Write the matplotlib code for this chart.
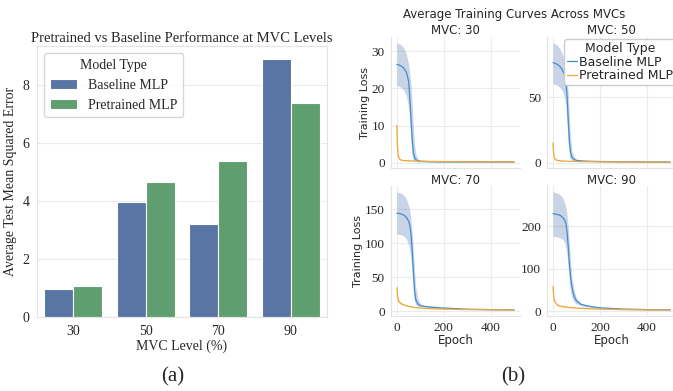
import matplotlib
matplotlib.use("Agg")
import matplotlib.pyplot as plt
import seaborn as sns

sns.set_style("whitegrid", {'grid.color': '#EBEBEB', 'axes.edgecolor': '#E3E3E3'})
plt.rcParams['font.family'] = ['DejaVu Sans']
plt.rcParams['font.serif'] = ['Liberation Serif', 'DejaVu Serif']

# ---- (a) bar chart data ----
mvc_levels = ["30", "50", "70", "90"]
baseline_mse = [0.96, 3.97, 3.22, 8.88]
pretrained_mse = [1.08, 4.65, 5.36, 7.37]

# ---- (b) training curves data ----
base_epochs = [0, 10, 20, 30, 40, 50, 55, 60, 65, 70, 75, 80, 90, 100, 120, 150, 200, 300, 400, 499]
pre_epochs = [0, 2, 5, 10, 20, 40, 60, 80, 100, 150, 200, 300, 400, 499]

base_mean = {
    30: [26.5, 26.3, 26.0, 25.4, 24.4, 22.0, 17.5, 12.0, 6.5, 2.8, 1.5, 0.9, 0.6, 0.45, 0.38, 0.33, 0.3, 0.3, 0.3, 0.3],
    50: [76.6, 76.0, 75.0, 73.5, 71.0, 67.0, 62.0, 50.0, 32.0, 16.0, 8.0, 4.5, 2.6, 1.9, 1.5, 1.2, 1.0, 0.8, 0.7, 0.6],
    70: [144, 143.5, 142.5, 141, 138, 132, 126, 114, 90, 60, 32, 17, 10, 8, 6.8, 5.8, 4.5, 2.8, 2.2, 2.0],
    90: [230, 229, 228, 226, 222, 214, 205, 185, 150, 110, 80, 58, 35, 24, 16, 12, 8, 5, 3.8, 3.2],
}
base_upper = {
    30: [32.2, 32.0, 31.6, 30.8, 29.3, 26.5, 24.0, 20.5, 15.5, 9.5, 5.0, 2.5, 1.0, 0.6, 0.45, 0.4, 0.35, 0.35, 0.35, 0.35],
    50: [91.5, 91.0, 89.5, 87.0, 83.0, 77.0, 73.0, 66.0, 52.0, 33.0, 18.0, 9.0, 4.0, 2.5, 1.8, 1.4, 1.1, 0.9, 0.8, 0.7],
    70: [175, 174, 173, 170, 165, 155, 148, 135, 115, 88, 60, 36, 18, 11, 8, 6.5, 5.0, 3.0, 2.4, 2.2],
    90: [281, 280, 278, 275, 268, 255, 245, 225, 195, 155, 115, 82, 48, 30, 19, 14, 9, 5.8, 4.3, 3.6],
}
base_lower = {
    30: [20.8, 20.6, 20.2, 19.5, 18.0, 15.0, 11.0, 5.5, 1.8, 0.6, 0.4, 0.3, 0.28, 0.26, 0.25, 0.22, 0.2, 0.2, 0.2, 0.2],
    50: [60.5, 60.0, 59.0, 57.5, 55.0, 50.0, 42.0, 28.0, 14.0, 5.0, 2.5, 1.8, 1.4, 1.2, 1.1, 1.0, 0.8, 0.7, 0.6, 0.5],
    70: [113.5, 113, 112, 110, 106, 98, 90, 75, 55, 30, 15, 10, 7.5, 6.5, 5.8, 5.0, 4.0, 2.6, 2.0, 1.8],
    90: [176.5, 176, 175, 173, 170, 162, 150, 130, 100, 68, 45, 32, 22, 17, 13, 10, 7, 4.3, 3.3, 2.9],
}
pre_mean = {
    30: [10.0, 5.0, 2.2, 1.1, 0.7, 0.6, 0.55, 0.5, 0.45, 0.4, 0.35, 0.3, 0.3, 0.3],
    50: [15.2, 8.0, 4.0, 2.5, 1.8, 1.4, 1.2, 1.1, 1.0, 0.9, 0.8, 0.7, 0.6, 0.6],
    70: [34.5, 24.0, 17.0, 13.5, 10.5, 8.0, 6.3, 5.2, 4.5, 3.6, 3.0, 2.3, 2.0, 1.8],
    90: [59, 40, 27, 20, 14, 11, 9.5, 8.5, 7.5, 6.0, 5.0, 3.8, 3.2, 3.0],
}
pre_upper = {
    30: [10.3, 5.4, 2.5, 1.3, 0.8, 0.7, 0.6, 0.55, 0.5, 0.45, 0.4, 0.35, 0.35, 0.35],
    50: [16.0, 8.8, 4.6, 2.9, 2.1, 1.6, 1.4, 1.2, 1.1, 1.0, 0.9, 0.8, 0.7, 0.7],
    70: [36.0, 26.5, 19.5, 15.5, 12.0, 9.0, 7.0, 5.8, 5.0, 3.9, 3.2, 2.5, 2.2, 2.0],
    90: [61, 44, 31, 23, 16, 12.5, 10.5, 9.3, 8.2, 6.5, 5.4, 4.1, 3.5, 3.2],
}
pre_lower = {
    30: [9.7, 4.6, 1.9, 0.9, 0.6, 0.5, 0.5, 0.45, 0.4, 0.35, 0.3, 0.25, 0.25, 0.25],
    50: [14.4, 7.2, 3.4, 2.1, 1.5, 1.2, 1.0, 1.0, 0.9, 0.8, 0.7, 0.6, 0.5, 0.5],
    70: [33.0, 21.5, 14.5, 11.5, 9.0, 7.0, 5.6, 4.6, 4.0, 3.3, 2.8, 2.1, 1.8, 1.6],
    90: [57, 36, 23, 17, 12, 9.5, 8.5, 7.7, 6.8, 5.5, 4.6, 3.5, 2.9, 2.8],
}
yticks = {30: [0, 10, 20, 30], 50: [0, 50], 70: [0, 50, 100, 150], 90: [0, 100, 200]}

fig = plt.figure(figsize=(6.73, 3.91), dpi=100)

# ---------------- (a) ----------------
serif = ['Liberation Serif', 'DejaVu Serif']
ax = fig.add_axes([0.055, 0.189, 0.431, 0.693])
x = list(range(len(mvc_levels)))
ax.bar([i - 0.2 for i in x], baseline_mse, width=0.4, color='#5875A4',
       edgecolor='white', linewidth=0.8, label='Baseline MLP')
ax.bar([i + 0.2 for i in x], pretrained_mse, width=0.4, color='#5F9E6E',
       edgecolor='white', linewidth=0.8, label='Pretrained MLP')
ax.set_xlim(-0.5, 3.5)
ax.set_xticks(x)
ax.set_xticklabels(mvc_levels)
ax.set_yticks([0, 2, 4, 6, 8])
for lab in ax.get_xticklabels() + ax.get_yticklabels():
    lab.set_family(serif)
    lab.set_fontsize(10)
ax.tick_params(axis='both', pad=2)
ax.set_xlabel("MVC Level (%)", family=serif, fontsize=10, labelpad=1)
ax.set_ylabel("Average Test Mean Squared Error", family=serif, fontsize=10, labelpad=4)
ax.set_title("Pretrained vs Baseline Performance at MVC Levels", family=serif,
             fontsize=10.5, pad=3)
ax.grid(axis='x', visible=False)
leg = ax.legend(title="Model Type", loc='upper left', prop={'family': serif, 'size': 10},
                title_fontproperties={'family': serif, 'size': 10})

fig.text(0.256, 0.037, "(a)", family=serif, fontsize=15, ha='center', va='center')

# ---------------- (b) ----------------
positions = {
    30: [0.581, 0.570, 0.192, 0.335],
    50: [0.813, 0.570, 0.192, 0.335],
    70: [0.581, 0.192, 0.192, 0.332],
    90: [0.813, 0.192, 0.192, 0.332],
}
blue = '#3D8FD1'
orange = '#F0A73A'
for mvc, pos in positions.items():
    a = fig.add_axes(pos)
    a.fill_between(base_epochs, base_lower[mvc], base_upper[mvc], color='#4C72B0',
                   alpha=0.3, linewidth=0)
    a.fill_between(pre_epochs, pre_lower[mvc], pre_upper[mvc], color=orange,
                   alpha=0.3, linewidth=0)
    a.plot(base_epochs, base_mean[mvc], color=blue, linewidth=0.9, label='Baseline MLP')
    a.plot(pre_epochs, pre_mean[mvc], color=orange, linewidth=0.9, label='Pretrained MLP')
    a.set_xlim(-25, 525)
    a.set_xticks([0, 200, 400])
    a.set_yticks(yticks[mvc])
    for lab in a.get_xticklabels() + a.get_yticklabels():
        lab.set_family(serif)
        lab.set_fontsize(9.5)
    a.tick_params(axis='both', pad=1)
    sns.despine(ax=a)
    a.set_title(f"MVC: {mvc}", fontsize=8.5, pad=1.5)
    if mvc in (30, 50):
        a.tick_params(axis='x', labelbottom=False)
    else:
        a.set_xlabel("Epoch", fontsize=8.5, labelpad=0)
    if mvc in (30, 70):
        a.set_ylabel("Training Loss", fontsize=8, labelpad=1)
    if mvc == 50:
        a.legend(title="Model Type", loc='upper right', bbox_to_anchor=(1.04, 1.03),
                 fontsize=9, title_fontsize=9, handlelength=0.8, handletextpad=0.15,
                 labelspacing=0.05, borderpad=0.2, framealpha=1)

fig.text(0.764, 0.962, "Average Training Curves Across MVCs", fontsize=8.5,
         ha='center', va='center')
fig.text(0.762, 0.037, "(b)", family=serif, fontsize=15, ha='center', va='center')

fig.savefig("out.png", dpi=100)
